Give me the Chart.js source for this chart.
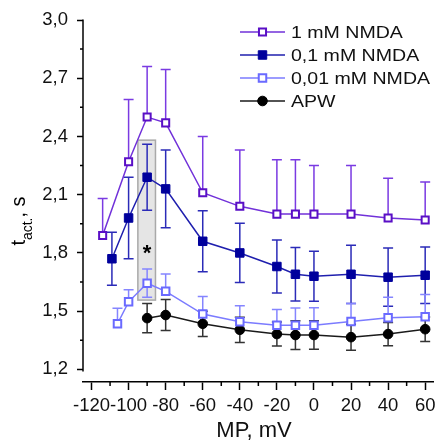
<!DOCTYPE html>
<html>
<head>
<meta charset="utf-8">
<script src="https://cdn.jsdelivr.net/npm/chart.js@4/dist/chart.umd.min.js"></script>
<style>
  html, body { margin: 0; padding: 0; background: #fff; }
  canvas { display: block; }
</style>
</head>
<body>
<canvas id="chart" width="441" height="443"></canvas>
<script>
// Activation time vs membrane potential, four NMDA conditions

// 1 mM NMDA (open purple squares, upper error bars only)
const mp1 = [-114, -100, -90, -80, -60, -40, -20, -10, 0, 20, 40, 60];
const t1 = [1.89, 2.27, 2.50, 2.47, 2.11, 2.04, 2.00, 2.00, 2.00, 2.00, 1.98, 1.97];
const up1 = [0.19, 0.32, 0.26, 0.275, 0.29, 0.29, 0.28, 0.28, 0.25, 0.25, 0.205, 0.195];
const down1 = [0, 0, 0, 0, 0, 0, 0, 0, 0, 0, 0, 0];

// 0,1 mM NMDA (filled navy squares)
const mp2 = [-109, -100, -90, -80, -60, -40, -20, -10, 0, 20, 40, 60];
const t2 = [1.77, 1.98, 2.19, 2.13, 1.86, 1.80, 1.73, 1.69, 1.68, 1.69, 1.675, 1.685];
const up2 = [0.136, 0.21, 0.17, 0.20, 0.157, 0.153, 0.136, 0.138, 0.129, 0.15, 0.15, 0.146];
const down2 = [0.136, 0.21, 0.17, 0.20, 0.157, 0.153, 0.136, 0.138, 0.129, 0.15, 0.15, 0.146];

// 0,01 mM NMDA (open light blue squares)
const mp3 = [-106, -100, -90, -80, -60, -40, -20, -10, 0, 20, 40, 60];
const t3 = [1.435, 1.548, 1.644, 1.602, 1.485, 1.445, 1.427, 1.428, 1.428, 1.447, 1.466, 1.471];
const up3 = [0.08, 0.062, 0.073, 0.09, 0.09, 0.083, 0.082, 0.088, 0.09, 0.093, 0.105, 0.115];
const down3 = [0, 0, 0.073, 0, 0, 0, 0, 0, 0, 0, 0, 0];

// APW (filled black circles)
const mp4 = [-90, -80, -60, -40, -20, -10, 0, 20, 40, 60];
const t4 = [1.464, 1.48, 1.435, 1.404, 1.382, 1.377, 1.377, 1.366, 1.382, 1.407];
const up4 = [0.075, 0.08, 0.065, 0.065, 0.062, 0.074, 0.073, 0.067, 0.06, 0.063];
const down4 = [0.075, 0.08, 0.065, 0.065, 0.062, 0.074, 0.073, 0.067, 0.06, 0.063];

const seriesNames = ['1 mM NMDA', '0,1 mM NMDA', '0,01 mM NMDA', 'APW'];

// axis ticks
const xTicks = [-120, -100, -80, -60, -40, -20, 0, 20, 40, 60];
const xMinorTicks = [-110, -90, -70, -50, -30, -10, 10, 30, 50];
const yTicks = [1.2, 1.5, 1.8, 2.1, 2.4, 2.7, 3.0];
const yMinorTicks = [1.35, 1.65, 1.95, 2.25, 2.55, 2.85];

// shaded significance box at -90 mV
const boxMp = [-95, -85.5];
const boxT = [1.557, 2.381];
const starPoint = [-90, 1.82];

// Styles for each series
const styles = [
    { line: '#7131d9', bar: '#7a3ae2', border: '#5a0fc6', fill: '#ffffff', shape: 'rect', r: 5, bw: 2 },
    { line: '#1f1fae', bar: '#2b2bb8', border: '#00009c', fill: '#00009c', shape: 'rect', r: 6, bw: 1 },
    { line: '#7b7bff', bar: '#8585ff', border: '#6a6aff', fill: '#ffffff', shape: 'rect', r: 5.3, bw: 2 },
    { line: '#1a1a1a', bar: '#333333', border: '#000000', fill: '#000000', shape: 'circle', r: 4.8, bw: 1 }
];

const allX = [mp1, mp2, mp3, mp4];
const allY = [t1, t2, t3, t4];
const allUp = [up1, up2, up3, up4];
const allDown = [down1, down2, down3, down4];

const FONT = '"Liberation Sans", Arial, sans-serif';

function toPoints(xs, ys) {
    return xs.map((x, i) => ({ x: x, y: ys[i] }));
}

const datasets = seriesNames.map((name, k) => ({
    label: name,
    data: toPoints(allX[k], allY[k]),
    borderColor: styles[k].line,
    borderWidth: 1.5,
    pointStyle: styles[k].shape,
    pointRadius: styles[k].r,
    pointBorderColor: styles[k].border,
    pointBackgroundColor: styles[k].fill,
    pointBorderWidth: styles[k].bw,
    tension: 0,
    fill: false
}));

// marker drawing for the legend
function drawMarker(ctx, st, cx, cy) {
    ctx.beginPath();
    if (st.shape === 'circle') {
        ctx.arc(cx, cy, st.r, 0, Math.PI * 2);
    } else {
        const h = st.r * Math.SQRT1_2;
        ctx.rect(cx - h, cy - h, 2 * h, 2 * h);
    }
    ctx.fillStyle = st.fill;
    ctx.fill();
    ctx.lineWidth = st.bw;
    ctx.strokeStyle = st.border;
    ctx.stroke();
}

const decor = {
    id: 'decor',
    beforeDatasetsDraw(chart) {
        const ctx = chart.ctx;
        const x = chart.scales.x, y = chart.scales.y;
        ctx.save();

        // grey box
        const l = x.getPixelForValue(boxMp[0]), r = x.getPixelForValue(boxMp[1]);
        const t = y.getPixelForValue(boxT[1]), b = y.getPixelForValue(boxT[0]);
        ctx.fillStyle = '#e5e5e5';
        ctx.fillRect(l, t, r - l, b - t);
        ctx.strokeStyle = '#a9a9a9';
        ctx.lineWidth = 1.5;
        ctx.strokeRect(l, t, r - l, b - t);

        // asterisk
        ctx.fillStyle = '#000';
        ctx.font = 'bold 22px ' + FONT;
        ctx.textAlign = 'center';
        ctx.textBaseline = 'alphabetic';
        const m = ctx.measureText('*');
        const sx = x.getPixelForValue(starPoint[0]);
        const sy = y.getPixelForValue(starPoint[1]);
        ctx.fillText('*', sx, sy + (m.actualBoundingBoxAscent - m.actualBoundingBoxDescent) / 2);

        // error bars
        for (let k = 0; k < allX.length; k++) {
            ctx.strokeStyle = styles[k].bar;
            ctx.lineWidth = 1.5;
            for (let i = 0; i < allX[k].length; i++) {
                const px = x.getPixelForValue(allX[k][i]);
                const py = y.getPixelForValue(allY[k][i]);
                [allY[k][i] + allUp[k][i], allDown[k][i] ? allY[k][i] - allDown[k][i] : null].forEach(end => {
                    if (end === null || end === allY[k][i]) return;
                    const ey = y.getPixelForValue(end);
                    ctx.beginPath();
                    ctx.moveTo(px, py);
                    ctx.lineTo(px, ey);
                    ctx.moveTo(px - 5, ey);
                    ctx.lineTo(px + 5, ey);
                    ctx.stroke();
                });
            }
        }
        ctx.restore();
    },
    afterDraw(chart) {
        const ctx = chart.ctx;
        const x = chart.scales.x, y = chart.scales.y;
        const area = chart.chartArea;
        ctx.save();
        ctx.strokeStyle = '#000';
        ctx.lineWidth = 1.5;

        // y axis line (stops just under the 1,2 tick)
        ctx.beginPath();
        ctx.moveTo(area.left, y.getPixelForValue(3.0) - 0.5);
        ctx.lineTo(area.left, y.getPixelForValue(1.2) + 2);
        ctx.stroke();

        // minor ticks
        ctx.beginPath();
        xMinorTicks.forEach(v => {
            const px = x.getPixelForValue(v);
            ctx.moveTo(px, area.bottom);
            ctx.lineTo(px, area.bottom + 4);
        });
        yMinorTicks.forEach(v => {
            const py = y.getPixelForValue(v);
            ctx.moveTo(area.left, py);
            ctx.lineTo(area.left - 3, py);
        });
        ctx.stroke();

        // x title
        ctx.fillStyle = '#111';
        ctx.font = '22px ' + FONT;
        ctx.textAlign = 'center';
        ctx.textBaseline = 'alphabetic';
        ctx.fillText('MP, mV', 254, 437);

        // y title: t_act., s
        ctx.translate(25, 221);
        ctx.rotate(-Math.PI / 2);
        ctx.fillStyle = '#000';
        ctx.textAlign = 'left';
        const big = '20px ' + FONT;
        const small = '14px ' + FONT;
        ctx.font = big;
        const wT = ctx.measureText('t').width;
        const wS = ctx.measureText(', s').width;
        ctx.font = small;
        const wA = ctx.measureText('act.').width;
        let cx = -(wT + wA + wS) / 2;
        ctx.font = big;
        ctx.fillText('t', cx, 0);
        cx += wT;
        ctx.font = small;
        ctx.fillText('act.', cx, 7);
        cx += wA;
        ctx.font = big;
        ctx.fillText(', s', cx, 0);
        ctx.setTransform(1, 0, 0, 1, 0, 0);

        // legend (text slightly wide, as in the original figure)
        const rows = [32, 55, 78, 101];
        seriesNames.forEach((name, k) => {
            const ry = rows[k];
            ctx.strokeStyle = styles[k].line;
            ctx.lineWidth = 1.5;
            ctx.beginPath();
            ctx.moveTo(240, ry);
            ctx.lineTo(285, ry);
            ctx.stroke();
            drawMarker(ctx, styles[k], 262.5, ry);
            ctx.save();
            ctx.translate(291, ry + 1);
            ctx.scale(1.15, 1);
            ctx.font = '17px ' + FONT;
            ctx.textBaseline = 'middle';
            ctx.textAlign = 'left';
            ctx.fillStyle = '#111';
            ctx.fillText(name, 0, 0);
            ctx.restore();
        });
        ctx.restore();
    }
};

const tickFont = { family: FONT, size: 18.5 };

new Chart(document.getElementById('chart').getContext('2d'), {
    type: 'line',
    data: { datasets: datasets },
    options: {
        responsive: false,
        animation: false,
        layout: { padding: { top: 20, right: 4, left: 0, bottom: 0 } },
        plugins: {
            legend: { display: false },
            tooltip: { enabled: false }
        },
        scales: {
            x: {
                type: 'linear',
                min: -124.6,
                max: 64.6,
                afterBuildTicks: s => { s.ticks = xTicks.map(v => ({ value: v })); },
                afterFit: s => { s.height = 61; s.paddingLeft = 0; s.paddingRight = 0; },
                ticks: {
                    font: tickFont,
                    color: '#111',
                    padding: 5,
                    maxRotation: 0,
                    autoSkip: false,
                    callback: v => String(v)
                },
                grid: { drawOnChartArea: false, drawTicks: true, tickLength: 8, tickColor: '#000', tickWidth: 1.5 },
                border: { display: true, color: '#000', width: 1.5 }
            },
            y: {
                type: 'linear',
                min: 1.135,
                max: 3.0,
                afterBuildTicks: s => { s.ticks = yTicks.map(v => ({ value: v })); },
                afterFit: s => { s.width = 83; s.paddingTop = 0; s.paddingBottom = 0; },
                ticks: {
                    font: tickFont,
                    color: '#111',
                    padding: 9,
                    autoSkip: false,
                    callback: v => v.toFixed(1).replace('.', ',')
                },
                grid: { drawOnChartArea: false, drawTicks: true, tickLength: 6, tickColor: '#000', tickWidth: 1.5 },
                border: { display: false }
            }
        }
    },
    plugins: [decor]
});
</script>
</body>
</html>
